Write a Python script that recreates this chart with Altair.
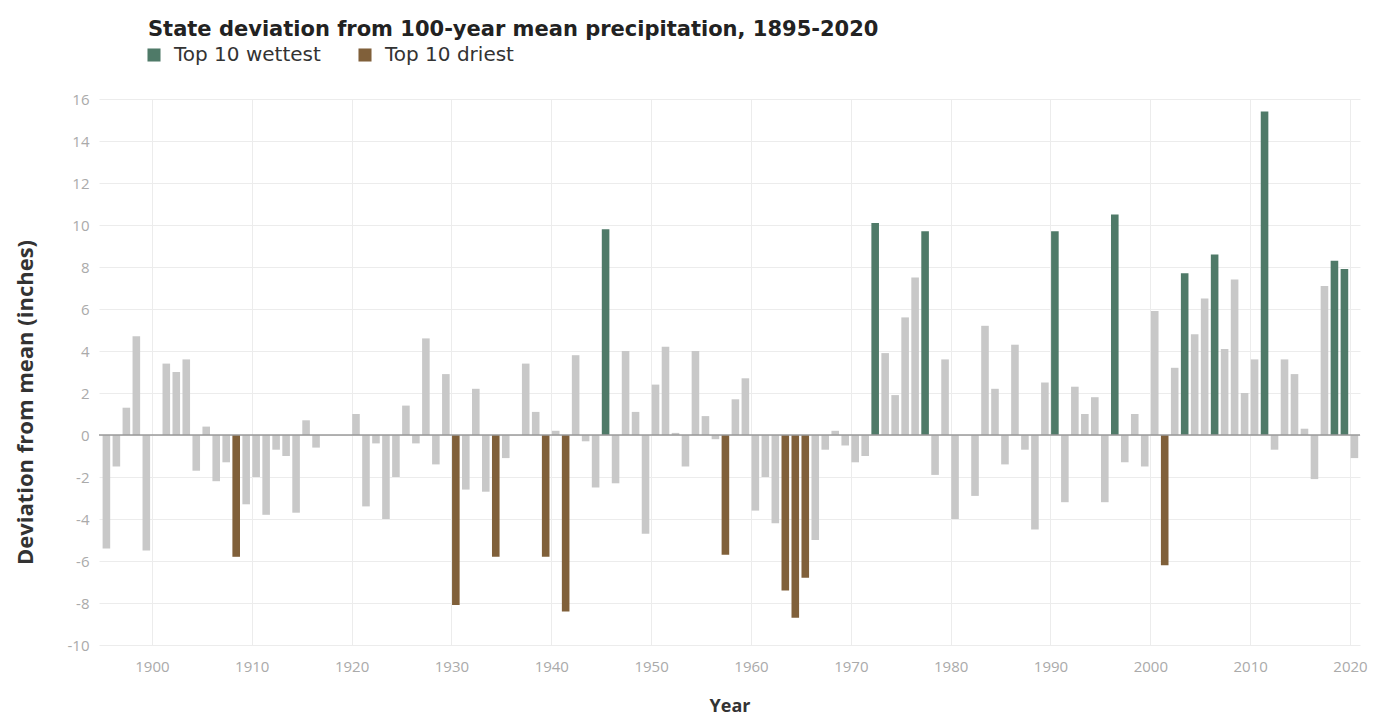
import altair as alt
import pandas as pd

# ---- data ----
years = list(range(1895, 2021))
deviation = [
    -5.4, -1.5, 1.3, 4.7, -5.5,            # 1895-1899
    0.0, 3.4, 3.0, 3.6, -1.7, 0.4, -2.2, -1.3, -5.8, -3.3,   # 1900s
    -2.0, -3.8, -0.7, -1.0, -3.7, 0.7, -0.6, 0.0, 0.0, 0.0,  # 1910s
    1.0, -3.4, -0.4, -4.0, -2.0, 1.4, -0.4, 4.6, -1.4, 2.9,  # 1920s
    -8.1, -2.6, 2.2, -2.7, -5.8, -1.1, 0.0, 3.4, 1.1, -5.8,  # 1930s
    0.2, -8.4, 3.8, -0.3, -2.5, 9.8, -2.3, 4.0, 1.1, -4.7,   # 1940s
    2.4, 4.2, 0.1, -1.5, 4.0, 0.9, -0.2, -5.7, 1.7, 2.7,     # 1950s
    -3.6, -2.0, -4.2, -7.4, -8.7, -6.8, -5.0, -0.7, 0.2, -0.5,  # 1960s
    -1.3, -1.0, 10.1, 3.9, 1.9, 5.6, 7.5, 9.7, -1.9, 3.6,    # 1970s
    -4.0, 0.0, -2.9, 5.2, 2.2, -1.4, 4.3, -0.7, -4.5, 2.5,   # 1980s
    9.7, -3.2, 2.3, 1.0, 1.8, -3.2, 10.5, -1.3, 1.0, -1.5,   # 1990s
    5.9, -6.2, 3.2, 7.7, 4.8, 6.5, 8.6, 4.1, 7.4, 2.0,       # 2000s
    3.6, 15.4, -0.7, 3.6, 2.9, 0.3, -2.1, 7.1, 8.3, 7.9,     # 2010s
    -1.1,                                                    # 2020
]
wettest_years = [1945, 1972, 1977, 1990, 1996, 2003, 2006, 2011, 2018, 2019]
driest_years = [1908, 1930, 1934, 1939, 1941, 1957, 1963, 1964, 1965, 2001]
categories = ["Top 10 wettest", "Top 10 driest"]
category_colors = ["#4f7a68", "#80603a"]
other_color = "#c8c8c8"
x_ticks = list(range(1900, 2021, 10))
y_ticks = list(range(-10, 17, 2))

def group_of(y):
    if y in wettest_years:
        return categories[0]
    if y in driest_years:
        return categories[1]
    return "Other"

df = pd.DataFrame({
    "year": years,
    "deviation": deviation,
    "group": [group_of(y) for y in years],
})

FONT = "Open Sans"
HEAD_FONT = "DejaVu Sans"

base = alt.Chart(df).transform_calculate(
    x0="datum.year + 0.06", x1="datum.year + 0.82"
)

x_enc = alt.X(
    "x0:Q",
    scale=alt.Scale(domain=[1894.7, 2021], nice=False, zero=False),
    axis=alt.Axis(
        values=x_ticks, format="d", title="Year",
        grid=True, gridColor="#ececec", domain=False, ticks=False,
        labelColor="#aaaaaa", labelFontSize=15, labelFont=FONT, labelPadding=14,
        titleFont=FONT, titleFontSize=18, titleFontWeight="bold",
        titleColor="#333333", titlePadding=23,
    ),
)
y_enc = alt.Y(
    "deviation:Q",
    scale=alt.Scale(domain=[-10, 16], nice=False),
    axis=alt.Axis(
        values=y_ticks, title="Deviation from mean (inches)",
        labelExpr="toString(datum.value)",
        grid=True, gridColor="#ececec", domain=False, ticks=False,
        labelColor="#aaaaaa", labelFontSize=15, labelFont=FONT, labelPadding=10,
        titleFont=FONT, titleFontSize=22, titleFontWeight="bold",
        titleColor="#333333", titlePadding=30, titleY=303,
    ),
)

gray_bars = base.transform_filter(alt.datum.group == "Other").mark_bar(
    color=other_color
).encode(x=x_enc, x2="x1:Q", y=y_enc, y2=alt.datum(0))

color_bars = base.transform_filter(alt.datum.group != "Other").mark_bar().encode(
    x=alt.X("x0:Q"),
    x2="x1:Q",
    y=alt.Y("deviation:Q"),
    y2=alt.datum(0),
    color=alt.Color(
        "group:N",
        scale=alt.Scale(domain=categories, range=category_colors),
        legend=alt.Legend(
            title=None, orient="none", direction="horizontal",
            legendX=45, legendY=-54, padding=0,
            symbolType="square", symbolSize=170, symbolStrokeWidth=0,
            symbolOpacity=1, labelFont=HEAD_FONT, labelFontSize=20,
            labelColor="#333333", labelOffset=10, columnPadding=34,
        ),
    ),
)

zero_rule = alt.Chart(pd.DataFrame({"v": [0]})).mark_rule(
    color="#9a9a9a", strokeWidth=1.5
).encode(y=alt.Y("v:Q"))

chart = alt.layer(gray_bars, color_bars, zero_rule).properties(
    width=1261,
    height=546,
    title=alt.TitleParams(
        text="State deviation from 100-year mean precipitation, 1895-2020",
        anchor="start", frame="group", dx=49, offset=5,
        font=HEAD_FONT, fontSize=21, fontWeight="bold", color="#222222",
    ),
    autosize=alt.AutoSizeParams(type="none"),
    padding={"left": 91, "top": 91, "right": 8, "bottom": 74},
    background="white",
).configure_view(stroke=None)

chart.save("out.html", embed_options={"renderer": "svg", "actions": False})
